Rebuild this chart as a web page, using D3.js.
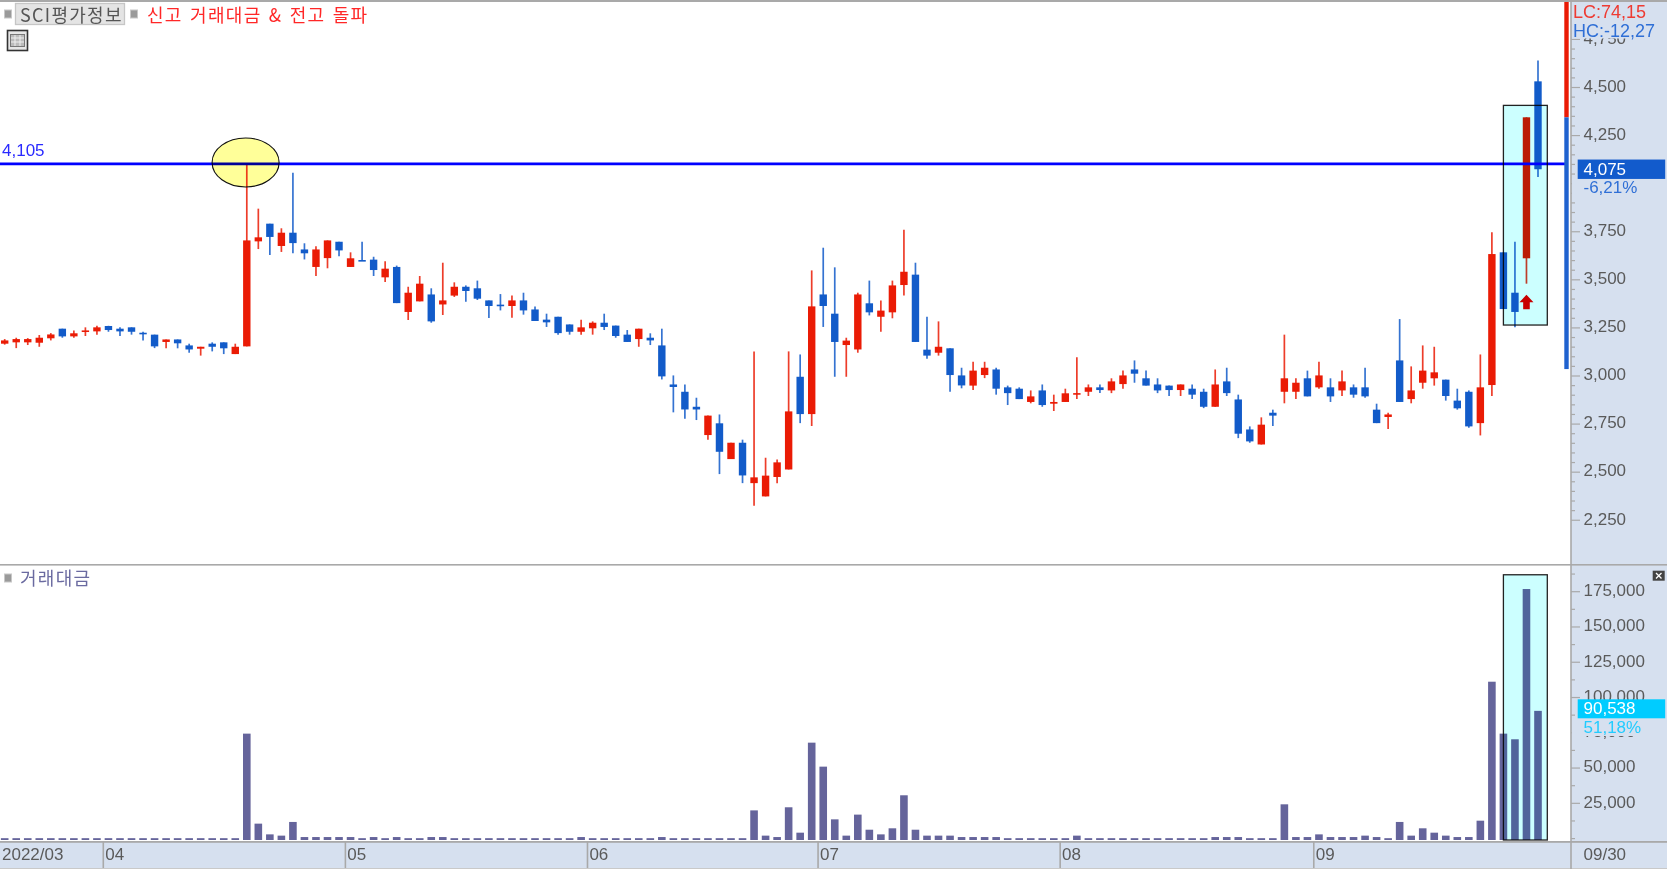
<!DOCTYPE html>
<html><head><meta charset="utf-8">
<script src="https://cdnjs.cloudflare.com/ajax/libs/d3/7.8.5/d3.min.js"></script>
<style>
html,body{margin:0;padding:0;background:#fff;overflow:hidden}
svg{display:block}
text{font-family:"Liberation Sans",sans-serif;font-size:17px;dominant-baseline:central}
.kr{font-family:"Noto Sans CJK KR","Noto Sans",sans-serif;font-size:18px;letter-spacing:1.3px;word-spacing:2px}
.hd{font-size:18px}
</style></head><body>
<svg id="c" width="1667" height="869"></svg>
<script>
const opens=[3168,3175,3175,3173,3196,3246,3206,3229,3232,3260,
3246,3253,3225,3215,3177,3190,3159,3142,3168,3175,
3114,3154,3700,3792,3676,3745,3658,3567,3613,3698,
3567,3603,3605,3513,3567,3333,3388,3424,3372,3418,
3464,3456,3393,3371,3364,3393,3346,3293,3308,3268,
3230,3248,3277,3262,3215,3192,3199,3159,2956,2918,
2840,2693,2754,2568,2653,2443,2374,2475,2514,2996,
2802,3424,3324,3161,3138,3378,3308,3331,3473,3527,
3137,3121,3144,3003,2950,3005,3034,2941,2934,2865,
2925,2856,2865,2904,2918,2941,2925,2958,3034,2988,
2956,2950,2927,2934,2918,2840,2972,2878,2722,2644,
2809,2918,2918,2988,2941,2941,2925,2941,2941,2825,
2787,3081,2880,2965,2988,2981,2872,2918,2755,2953,
3643,3433,3612,4532];
const highs=[3192,3199,3197,3213,3223,3246,3237,3253,3261,3261,
3253,3253,3230,3215,3190,3190,3168,3152,3175,3175,
3168,4105,3870,3792,3768,4057,3690,3674,3705,3698,
3643,3698,3620,3596,3574,3464,3520,3456,3589,3487,
3471,3496,3393,3426,3418,3433,3362,3324,3308,3268,
3293,3284,3324,3262,3239,3246,3222,3246,3003,2956,
2887,2794,2800,2653,2669,3128,2575,2566,3128,3112,
3549,3667,3565,3199,3433,3496,3393,3496,3761,3589,
3308,3284,3144,3043,3074,3074,3043,2950,2941,2925,
2956,2903,2934,3097,2956,2956,2988,3028,3081,3028,
2988,2950,2956,2956,2934,3034,3043,2903,2738,2785,
2825,3215,2988,3028,3074,2988,3028,2956,3043,2856,
2809,3296,3050,3159,3152,2981,2934,2925,3112,3747,
3643,3698,4345,4641];
const lows=[3163,3145,3161,3152,3185,3199,3199,3208,3215,3230,
3208,3215,3184,3145,3144,3144,3121,3106,3128,3114,
3114,3154,3660,3629,3645,3638,3606,3520,3560,3622,
3567,3598,3520,3489,3379,3291,3388,3277,3317,3411,
3386,3395,3301,3341,3303,3319,3286,3255,3215,3215,
3215,3215,3239,3199,3177,3152,3161,2982,2811,2778,
2771,2669,2490,2568,2443,2326,2374,2443,2514,2755,
2740,3255,2996,2996,3121,3315,3230,3300,3418,3177,
3090,3106,2918,2936,2927,2989,2903,2849,2880,2858,
2840,2818,2865,2880,2896,2911,2911,2934,2965,2950,
2911,2896,2896,2880,2833,2840,2896,2677,2653,2644,
2740,2858,2880,2894,2934,2865,2896,2887,2887,2755,
2724,2865,2858,2934,2950,2872,2825,2731,2691,2896,
3348,3253,3480,4035];
const closes=[3185,3192,3192,3199,3216,3206,3222,3237,3253,3239,
3232,3230,3220,3154,3190,3170,3138,3152,3152,3144,
3152,3705,3721,3723,3745,3691,3638,3658,3705,3653,
3612,3598,3551,3558,3379,3433,3480,3284,3393,3464,
3442,3402,3364,3366,3393,3341,3286,3279,3223,3230,
3253,3277,3255,3208,3177,3246,3185,2998,2943,2826,
2826,2794,2606,2653,2483,2473,2482,2551,2816,2802,
3362,3364,3177,3184,3424,3331,3340,3471,3542,3177,
3106,3152,3005,2951,3028,3043,2934,2911,2880,2894,
2849,2865,2910,2911,2941,2927,2972,3003,3012,2950,
2925,2927,2956,2903,2840,2956,2911,2700,2660,2747,
2794,2988,2965,2894,3003,2894,2972,2903,2894,2755,
2800,2865,2925,3028,3019,2896,2832,2738,2941,3634,
3348,3333,4345,4075];
const volumes=[300,300,300,300,300,300,300,300,300,300,
300,300,300,300,300,300,300,300,300,300,
300,74400,10600,3000,2100,11800,1100,1100,1100,1100,
1100,300,1100,300,1100,300,300,1100,1100,300,
300,300,300,300,300,300,300,300,300,300,
1100,300,300,300,300,300,300,1100,300,300,
300,300,300,300,300,20000,2100,1100,22200,4200,
68000,51000,13650,2100,17000,6300,3000,7300,30700,6300,
2100,2100,2100,1100,1100,1100,1100,300,300,300,
300,300,300,2100,300,300,300,300,300,300,
300,300,300,300,300,1100,1100,1100,300,300,
300,24300,1100,1100,3000,1100,1100,1100,2100,1100,
300,11800,2100,7300,4200,2100,1100,1100,12700,111200,
74400,70400,176901,90538];
const monthIndex=[9,30,51,71,92,114];
const monthLabels=["04","05","06","07","08","09"];
const firstLabel="2022/03", lastLabel="09/30";
const priceTicks=[4750,4500,4250,3750,3500,3250,3000,2750,2500,2250];
const volumeTicks=[175000,150000,125000,100000,75000,50000,25000];
const resistance=4105, lastPrice=4075, lastChange="-6,21%";
const lastVolume=90538, volumeChange="51,18%";
const lcText="LC:74,15", hcText="HC:-12,27";
const title="SCI평가정보", subtitle="신고 거래대금 & 전고 돌파", volumeTitle="거래대금";
const sideRed=[4955,4345], sideBlue=[4345,3036];
const highlightPrice=[4407,3265], highlightVolume=[187000];
const fmt=d3.format(","); 

const W=1667,H=869,axisX=1571;
const RED="#ea1b05",BLUE="#125bc9",AXBG="#d6e0ef",GRAY="#a9a9a9",TXT="#5a5a5a",LBLUE="#2f6fd6";
const x=d3.scaleLinear().domain([0,133]).range([4.7,1538]);
const step=x(1)-x(0);
const y=d3.scaleLinear().domain([4500,3000]).range([87.5,376]);
const v=d3.scaleLinear().domain([0,175000]).range([838.6,591.7]);
const svg=d3.select("#c");

svg.append("rect").attr("width",W).attr("height",H).attr("fill","#fff");
svg.append("rect").attr("x",axisX).attr("width",W-axisX).attr("height",H).attr("fill",AXBG);
svg.append("rect").attr("y",842).attr("width",W).attr("height",H-842).attr("fill",AXBG);

// price wicks & bodies
const idx=d3.range(opens.length);
const colorOf=i=>closes[i]>=opens[i]?RED:BLUE;
const gc=svg.append("g");
gc.selectAll(".w").data(idx).join("line")
 .attr("x1",x).attr("x2",x).attr("y1",i=>y(highs[i])).attr("y2",i=>y(lows[i]))
 .attr("stroke",colorOf).attr("stroke-width",1.7).attr("stroke-opacity",.85);
gc.selectAll(".b").data(idx).join("rect")
 .attr("x",i=>x(i)-3.7).attr("width",7.4)
 .attr("y",i=>Math.min(y(opens[i]),y(closes[i])))
 .attr("height",i=>Math.max(1.6,Math.abs(y(opens[i])-y(closes[i]))))
 .attr("fill",colorOf);

// volume
svg.append("g").selectAll("rect").data(idx).join("rect")
 .attr("x",i=>x(i)-3.8).attr("width",7.6)
 .attr("y",i=>v(volumes[i])).attr("height",i=>840-v(volumes[i]))
 .attr("fill","#65649b");

// horizontal resistance
svg.append("line").attr("x1",0).attr("x2",1568).attr("y1",y(resistance)+.4).attr("y2",y(resistance)+.4)
 .attr("stroke","#0000ff").attr("stroke-width",2.8);

// annotations (multiply so marks show through)
const mb="mix-blend-mode:multiply";
svg.append("ellipse").attr("cx",x(21)-1.2).attr("cy",y(resistance)-1).attr("rx",33.5).attr("ry",24.5)
 .attr("fill","#ffff99").attr("stroke","#111").attr("stroke-width",1.1).attr("style",mb);
const rx0=x(130),rx1=x(133)+9.3;
svg.append("rect").attr("x",rx0).attr("width",rx1-rx0).attr("y",y(highlightPrice[0])).attr("height",y(highlightPrice[1])-y(highlightPrice[0]))
 .attr("fill","#ccffff").attr("stroke","#222").attr("stroke-width",1.3).attr("style",mb);
svg.append("rect").attr("x",rx0).attr("width",rx1-rx0).attr("y",v(highlightVolume[0])).attr("height",840-v(highlightVolume[0]))
 .attr("fill","#ccffff").attr("stroke","#222").attr("stroke-width",1.3).attr("style",mb);

// arrow
const ax=x(132),ay=y(lows[132])+11;
svg.append("path").attr("d",d3.line()([[ax,ay],[ax+7,ay+7.5],[ax+3.3,ay+7.5],[ax+3.3,ay+14.5],[ax-3.3,ay+14.5],[ax-3.3,ay+7.5],[ax-7,ay+7.5]])+"Z").attr("fill","#c80000");

// side range bar
svg.append("rect").attr("x",1564.3).attr("width",4.4).attr("y",y(sideRed[0])).attr("height",y(sideRed[1])-y(sideRed[0])).attr("fill",RED);
svg.append("rect").attr("x",1564.3).attr("width",4.4).attr("y",y(sideBlue[0])).attr("height",y(sideBlue[1])-y(sideBlue[0])).attr("fill","#1f62cf");

// frame lines
function hline(yy,w,c){svg.append("rect").attr("x",0).attr("y",yy).attr("width",W).attr("height",w).attr("fill",c);}
hline(0,2,GRAY);hline(564,1.6,GRAY);hline(841,1.8,GRAY);hline(868,1,"#c9c9c9");
svg.append("rect").attr("x",axisX-.8).attr("y",0).attr("width",1.6).attr("height",H).attr("fill",GRAY);

// price axis
const minorP=d3.range(2250,4800,50);
svg.append("g").selectAll("line").data(minorP).join("line")
 .attr("x1",axisX).attr("x2",d=>d%250===0?axisX+9:axisX+4)
 .attr("y1",y).attr("y2",y).attr("stroke",GRAY).attr("stroke-width",1.2);
svg.append("g").selectAll("text").data(priceTicks).join("text")
 .attr("x",1583.5).attr("y",d=>y(d)-1.2).attr("fill",TXT).text(fmt);
// volume axis
const minorV=d3.range(0,200000,12500);
svg.append("g").selectAll("line").data(minorV).join("line")
 .attr("x1",axisX).attr("x2",d=>d%25000===0&&d>0?axisX+9:axisX+4)
 .attr("y1",v).attr("y2",v).attr("stroke",GRAY).attr("stroke-width",1.2);
svg.append("g").selectAll("text").data(volumeTicks).join("text")
 .attr("x",1583.5).attr("y",d=>v(d)-1.2).attr("fill",TXT).text(fmt);

// covers + tags
svg.append("rect").attr("x",axisX+1).attr("y",2).attr("width",W-axisX-1).attr("height",36.5).attr("fill",AXBG);
svg.append("rect").attr("x",1572).attr("y",178).attr("width",95).attr("height",18).attr("fill",AXBG);
svg.append("rect").attr("x",1572).attr("y",718).attr("width",95).attr("height",18).attr("fill",AXBG);
svg.append("text").attr("class","hd").attr("x",1573).attr("y",12).attr("fill","#ee3b32").text(lcText);
svg.append("text").attr("class","hd").attr("x",1573).attr("y",31).attr("fill",LBLUE).text(hcText);
svg.append("rect").attr("x",1577.7).attr("y",y(lastPrice)-9.7).attr("width",87.5).attr("height",19.4).attr("fill","#125bcc");
svg.append("text").attr("x",1583.5).attr("y",y(lastPrice)).attr("fill","#fff").text(fmt(lastPrice));
svg.append("text").attr("x",1583.5).attr("y",187).attr("fill",LBLUE).text(lastChange);
svg.append("rect").attr("x",1577.7).attr("y",699.3).attr("width",87.5).attr("height",19).attr("fill","#00ccff");
svg.append("text").attr("x",1583.5).attr("y",708.5).attr("fill","#fff").text(fmt(lastVolume));
svg.append("text").attr("x",1583.5).attr("y",727).attr("fill","#22ccff").text(volumeChange);
// close icon
svg.append("rect").attr("x",1652.7).attr("y",570.7).attr("width",12).attr("height",10).attr("fill","#444");
svg.append("path").attr("d","M1656 573L1661.5 578.5M1661.5 573L1656 578.5").attr("stroke","#fff").attr("stroke-width",1.3);

// bottom month axis
const mx=monthIndex.map(i=>x(i)-step/2);
svg.append("g").selectAll("rect").data(mx).join("rect")
 .attr("x",d=>d-.2).attr("y",842).attr("width",1.6).attr("height",26).attr("fill",GRAY);
svg.append("g").selectAll("text").data(monthLabels).join("text")
 .attr("x",(d,i)=>mx[i]+2.5).attr("y",854.5).attr("fill",TXT).text(d=>d);
svg.append("text").attr("x",2).attr("y",854.5).attr("fill",TXT).text(firstLabel);
svg.append("text").attr("x",1583.5).attr("y",854.5).attr("fill",TXT).text(lastLabel);

// header
function sq(xx,yy){svg.append("rect").attr("x",xx).attr("y",yy).attr("width",7).attr("height",8).attr("fill","#9a9a9a").attr("stroke","#c8c8c8");}
sq(4.5,10);sq(130.5,10);sq(4.5,574);
svg.append("rect").attr("x",15.5).attr("y",3.5).attr("width",109).attr("height",21).attr("fill","#e4e4e4").attr("stroke","#c6c6c6").attr("stroke-width",1.3);
svg.append("text").attr("class","kr").attr("x",20).attr("y",14).attr("fill","#555").text(title);
svg.append("text").attr("class","kr").attr("x",147).attr("y",14).attr("fill","#ff2727").text(subtitle);
svg.append("text").attr("class","kr").attr("x",20).attr("y",577).attr("fill","#6a6aa0").text(volumeTitle);
svg.append("text").attr("x",2).attr("y",150.5).attr("fill","#2a2aff").text(fmt(resistance));
// table icon
svg.append("rect").attr("x",7.5).attr("y",30.5).attr("width",20).attr("height",20).attr("fill","#e6e6e6").attr("stroke","#333").attr("stroke-width",1.6);
svg.append("rect").attr("x",10.5).attr("y",34.5).attr("width",14).attr("height",12).attr("fill","#bbb").attr("stroke","#777");
[15,20].forEach(a=>svg.append("line").attr("x1",a).attr("x2",a).attr("y1",35).attr("y2",46).attr("stroke","#eee"));
[38,42].forEach(a=>svg.append("line").attr("x1",11).attr("x2",24).attr("y1",a).attr("y2",a).attr("stroke","#eee"));
</script></body></html>
